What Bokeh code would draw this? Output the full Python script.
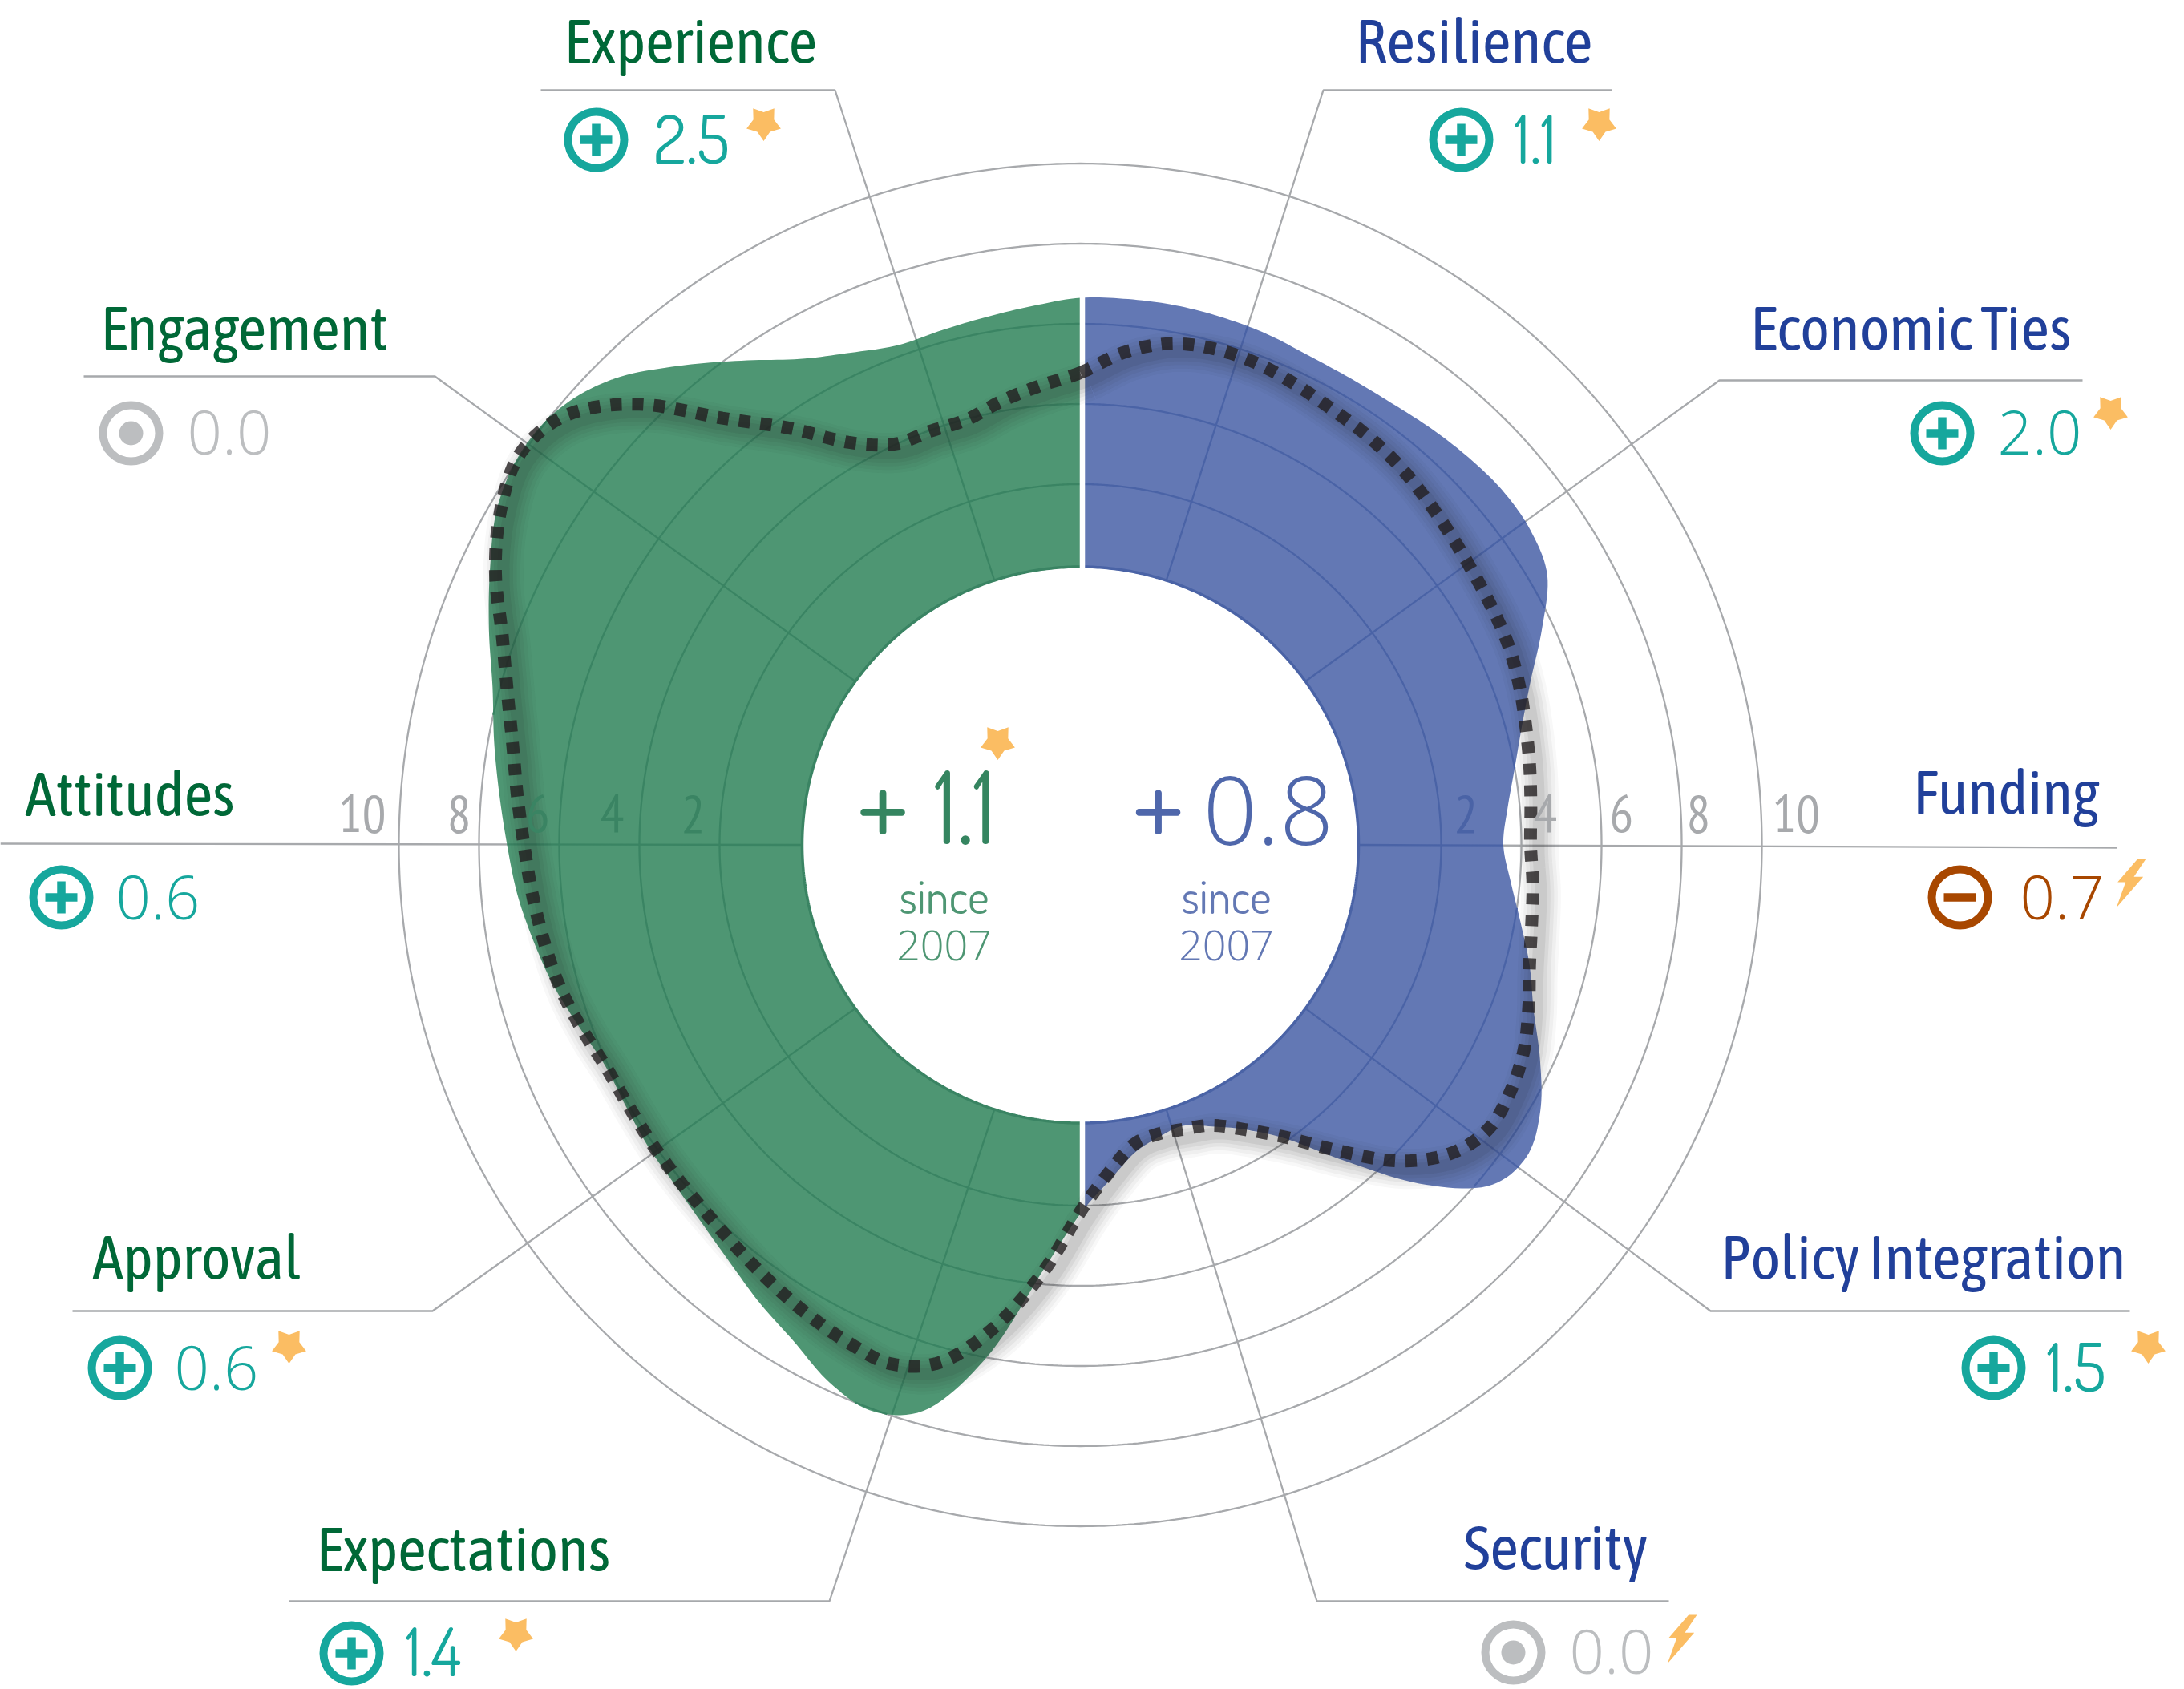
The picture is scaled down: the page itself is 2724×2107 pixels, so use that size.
import numpy as np
from bokeh.plotting import figure
from bokeh.embed import file_html
from bokeh.resources import INLINE
from bokeh.core.properties import value
from bokeh.models import Range1d

# ---- data -----------------------------------------------------------------
categories = ["Resilience", "Economic Ties", "Funding", "Policy Integration", "Security",
              "Expectations", "Approval", "Attitudes", "Engagement", "Experience"]
changes = ["1.1", "2.0", "0.7", "1.5", "0.0", "1.4", "0.6", "0.6", "0.0", "2.5"]
directions = ["up", "up", "down", "up", "flat", "up", "up", "up", "flat", "up"]
badges = ["star", "star", "bolt", "star", "bolt", "star", "star", None, None, "star"]
ticks = [2, 4, 6, 8, 10]
# score outlines, one value every 5 degrees, clockwise from the top
current = [6.65, 6.67, 6.67, 6.63, 6.57, 6.47, 6.45, 6.48, 6.58, 6.68, 6.75, 6.7, 6.45, 5.7, 4.95, 4.4, 4.0, 3.7,
           3.55, 3.78, 4.15, 4.6, 5.03, 5.65, 6.25, 6.58, 6.25, 4.95, 3.3, 1.95, 1.2, 0.75, 0.46, 0.55, 0.8, 1.4,
           2.2, 3.65, 5.85, 7.55, 8.05, 7.8, 7.3, 6.95, 6.6, 6.35, 6.2, 6.15, 6.08, 6.07, 6.3, 6.6, 6.85, 7.1,
           7.3, 7.55, 7.85, 8.18, 8.7, 9.25, 9.8, 10.05, 9.95, 9.45, 8.6, 7.75, 7.0, 6.55, 6.27, 6.3, 6.38, 6.5]
baseline = [4.78, 5.33, 5.7, 5.82, 5.8, 5.68, 5.55, 5.47, 5.36, 5.2, 5.05, 4.93, 4.85, 4.78, 4.65, 4.5, 4.38, 4.28,
            4.23, 4.33, 4.43, 4.6, 4.9, 5.2, 5.37, 5.4, 5.0, 4.15, 2.95, 1.9, 1.2, 0.72, 0.55, 0.47, 0.6, 1.2,
            2.15, 3.7, 5.2, 6.35, 6.78, 6.7, 6.55, 6.38, 6.22, 6.1, 6.05, 6.03, 6.02, 6.07, 6.27, 6.47, 6.6, 6.73,
            6.88, 7.1, 7.38, 7.8, 8.35, 9.1, 9.7, 10.05, 9.7, 8.55, 6.9, 5.7, 4.6, 4.03, 3.98, 3.98, 4.25, 4.5]

# ---- layout ----------------------------------------------------------------
CX, CY, R0, UNIT = 1347.0, 1053.5, 347.0, 50.0
R_ZERO = 350.0
W, H = 2724, 2107
GREEN_FILL, GREEN_LINE, GREEN_TXT = "#4E9673", "#3A8463", "#006837"
BLUE_FILL, BLUE_LINE, BLUE_TXT = "#6378B4", "#4A63A6", "#21409A"
TEAL, RUST, GREY, AMBER, RULE = "#16A79D", "#A84700", "#BCBEC0", "#FBBD63", "#A7A9AC"
LABEL_FONT = "Asap Condensed, PT Sans Narrow, Open Sans"
TICK_FONT = "PT Sans Narrow, Open Sans"
ROUND_FONT = "Dosis, Open Sans"       # rounded numerals; its zero is dotted, so
PLAIN_FONT = "Open Sans Light"        # anything with a zero uses a plain one
K = {LABEL_FONT: 0.365, TICK_FONT: 0.33, ROUND_FONT: 0.35, PLAIN_FONT: 0.36}

# label_x, label_align, label_baseline, rule_y, rule_far_x, elbow_x, icon_x, icon_y, num_x, num_base, badge_x, badge_y
layout = [
    (1986, "right", 79, 112, 2010, 1650, 1822, 174, 1888, 202, 1994, 153),
    (2583, "right", 437, 474, 2597, 2144, 2422, 540, 2491, 567, 2632, 513),
    (2618, "right", 1016, 1057, 2640, 2640, 2444, 1119, 2519, 1147, 2676, 1071),
    (2651, "right", 1596, 1635, 2656, 2133, 2486, 1706, 2552, 1734, 2679, 1678),
    (2055, "right", 1958, 1997, 2081, 1642, 1887, 2061, 1957, 2088, 2116, 2014),
    (394, "left", 1960, 1997, 360, 1034, 438, 2062, 505, 2089, 643, 2037),
    (115, "left", 1596, 1635, 90, 539, 149, 1706, 217, 1734, 360, 1678),
    (31, "left", 1018, 1052, 0, 0, 76, 1119, 144, 1147, 0, 0),
    (125, "left", 437, 469, 104, 542, 163, 540, 233, 567, 0, 0),
    (703, "left", 79, 112, 674, 1041, 743, 174, 815, 202, 952, 153),
]

p = figure(width=W, height=H, output_backend="svg", toolbar_location=None,
           x_range=Range1d(0, W), y_range=Range1d(H, 0), min_border=0)
p.axis.visible = False
p.grid.visible = False
p.outline_line_color = None


def radius(v):
    return R_ZERO + UNIT * np.asarray(v, dtype=float)


def polar(theta, r):
    return CX + r * np.sin(theta), CY - r * np.cos(theta)


def smooth(vals, steps=8):
    """Closed Catmull-Rom curve through the read values (the curve type of the original)."""
    n = len(vals)
    th = np.radians(np.arange(n) * 360.0 / n)
    px, py = polar(th, radius(vals))
    xs, ys = [], []
    t = np.linspace(0, 1, steps, endpoint=False)
    for i in range(n):
        a, b, c, d = [(i + k) % n for k in (-1, 0, 1, 2)]
        for arr, out in ((px, xs), (py, ys)):
            out.extend(0.5 * (2 * arr[b] + (arr[c] - arr[a]) * t
                              + (2 * arr[a] - 5 * arr[b] + 4 * arr[c] - arr[d]) * t ** 2
                              + (3 * arr[b] - arr[a] - 3 * arr[c] + arr[d]) * t ** 3))
    xs.append(xs[0]); ys.append(ys[0])
    return np.array(xs), np.array(ys)


cx_cur, cy_cur = smooth(current)
cx_old, cy_old = smooth(baseline)
ang = np.arctan2(cx_cur - CX, CY - cy_cur) % (2 * np.pi)
rad = np.hypot(cx_cur - CX, cy_cur - CY)
order = np.argsort(ang)


def r_at(theta):
    return np.interp(theta, ang[order], rad[order], period=2 * np.pi)


# grey rings and leader rules under everything
th_full = np.linspace(0, 2 * np.pi, 721)
for t in ticks:
    x, y = polar(th_full, radius(t))
    p.line(x, y, line_color=RULE, line_width=2.3)

spoke_angles = np.radians(18 + 36 * np.arange(len(categories)))
for th, lay in zip(spoke_angles, layout):
    rule_y, far_x, elbow_x = lay[3], lay[4], lay[5]
    x0, y0 = polar(th, R0)
    p.line([x0, elbow_x, far_x], [y0, rule_y, rule_y], line_color=RULE, line_width=2.3)

# filled halves
for side, fill in ((1, BLUE_FILL), (-1, GREEN_FILL)):
    thetas = np.linspace(0, np.pi, 361) if side == 1 else np.linspace(np.pi, 2 * np.pi, 361)
    ox, oy = polar(thetas, r_at(thetas))
    ix, iy = polar(thetas[::-1], np.full(thetas.shape, R0))
    p.patch(np.r_[ox, ix], np.r_[oy, iy], fill_color=fill, line_color=None)
    p.line(ix, iy, line_color=BLUE_LINE if side == 1 else GREEN_LINE, line_width=3.5)


# the rings and rules seen through the fill
def inside_lines(col, lo, hi):
    th = np.linspace(lo, hi, 721)
    for t in ticks:
        rr = radius(t)
        x, y = polar(th, np.full(th.shape, rr))
        mask = r_at(th) >= rr
        p.line(np.where(mask, x, np.nan), np.where(mask, y, np.nan), line_color=col, line_width=2.3)


inside_lines(BLUE_LINE, 0, np.pi)
inside_lines(GREEN_LINE, np.pi, 2 * np.pi)
for th, lay in zip(spoke_angles, layout):
    col = BLUE_LINE if th < np.pi else GREEN_LINE
    x0, y0 = polar(th, R0)
    ex, ey = lay[5], lay[3]
    frac = (float(r_at(th)) - R0) / (np.hypot(ex - CX, ey - CY) - R0)
    p.line([x0, x0 + frac * (ex - x0)], [y0, y0 + frac * (ey - y0)], line_color=col, line_width=2.3)

# white seam between the halves
for th in (0.0, np.pi):
    x, y = polar(np.array([th, th]), np.array([R0 - 4, float(r_at(th)) + 1]))
    p.line(x + 2.5, y, line_color="white", line_width=6.5)

# soft shadow and dashed earlier outline
for w, a in ((50, 0.03), (42, 0.04), (33, 0.05), (24, 0.06), (15, 0.07)):
    p.line(cx_old + 10, cy_old + 10, line_color="#231F20", line_alpha=a, line_width=w)
p.line(cx_old, cy_old, line_color="#231F20", line_alpha=0.8, line_width=16,
       line_dash="14 13", line_cap="butt", line_join="round")


def txt(x, y, s, color, size, font, align="left"):
    p.text([x], [y - K[font] * size], text=[s], text_color=color, text_font_size=f"{size}px",
           text_font=value(font), text_align=align, text_baseline="alphabetic")


# tick labels
left_edges = {2: 879, 4: 778, 6: 685, 8: 587, 10: 481}
right_edges = {2: 1813, 4: 1912, 6: 2007, 8: 2103, 10: 2210}
for t in ticks:
    txt(left_edges[t], 1036, str(t), GREEN_LINE if t <= 6 else RULE, 66, TICK_FONT, "right")
    txt(right_edges[t], 1036, str(t), BLUE_LINE if t <= 2 else RULE, 66, TICK_FONT, "left")

# centre text
txt(1100.5, 1053, "+", "#358560", 150, ROUND_FONT, "center")
txt(1164, 1050, "1.1", "#358560", 124, ROUND_FONT)
txt(1444, 1053, "+", "#4F67AB", 150, ROUND_FONT, "center")
txt(1500, 1053, "0.8", "#4F67AB", 118, PLAIN_FONT)
txt(1177, 1137, "since", GREEN_FILL, 58, ROUND_FONT, "center")
txt(1177, 1198, "2007", GREEN_FILL, 52, PLAIN_FONT, "center")
txt(1529, 1137, "since", BLUE_FILL, 58, ROUND_FONT, "center")
txt(1529, 1198, "2007", BLUE_FILL, 52, PLAIN_FONT, "center")

# badge shapes around their own centre / top-right tip
star_th = np.pi + np.arange(10) * np.pi / 5
star_r = np.where(np.arange(10) % 2 == 0, 22.5, 13.5)
STAR_X, STAR_Y = star_r * np.sin(star_th), -star_r * np.cos(star_th)
BOLT_X = np.array([0, -10.3, -35.3, -25.3, -36.7, -3.3, -15])
BOLT_Y = np.array([0, 0, 29, 29, 60.7, 22.3, 22.3])

p.patch(1244 + STAR_X, 925 + STAR_Y, fill_color=AMBER, line_color=None)

for i, lay in enumerate(layout):
    lx, al, lb, ry, fx, elx, ix, iy, nx, nb, bx, by = lay
    txt(lx, lb, categories[i], BLUE_TXT if i < 5 else GREEN_TXT, 78, LABEL_FONT, al)
    d = directions[i]
    col = {"up": TEAL, "down": RUST, "flat": GREY}[d]
    p.circle([ix], [iy], radius=35, fill_color=None, line_color=col, line_width=10)
    if d in ("up", "down"):
        p.rect([ix], [iy], width=40, height=10.5, fill_color=col, line_color=None)
    if d == "up":
        p.rect([ix], [iy], width=10.5, height=40, fill_color=col, line_color=None)
    if d == "flat":
        p.circle([ix], [iy], radius=15, fill_color=col, line_color=None)
    if "0" in changes[i]:
        txt(nx, nb, changes[i], col, 76, PLAIN_FONT)
    else:
        txt(nx, nb, changes[i], col, 84, ROUND_FONT)
    if badges[i] == "star":
        p.patch(bx + STAR_X, by + STAR_Y, fill_color=AMBER, line_color=None)
    elif badges[i] == "bolt":
        p.patch(bx + BOLT_X, by + BOLT_Y, fill_color=AMBER, line_color=None)

open("out.html", "w").write(file_html(p, INLINE))
